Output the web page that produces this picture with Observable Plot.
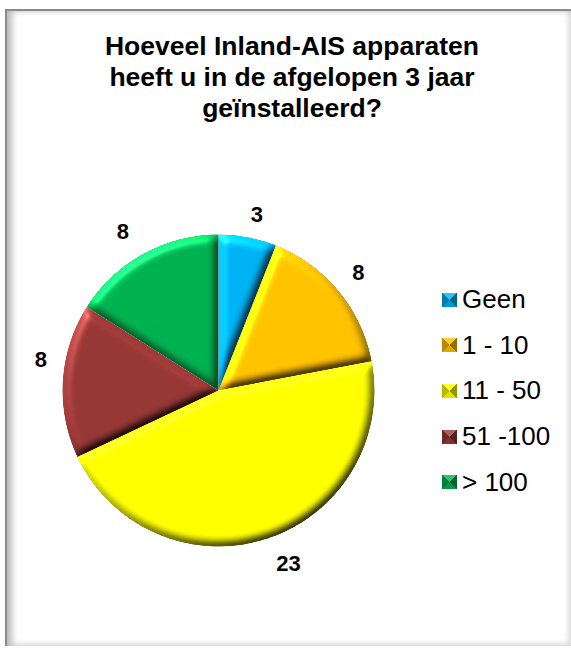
<!DOCTYPE html>
<html>
<head>
<meta charset="utf-8">
<script src="https://cdn.jsdelivr.net/npm/d3@7"></script>
<script src="https://cdn.jsdelivr.net/npm/@observablehq/plot@0.6"></script>
<style>
  html, body { margin: 0; background: #fff; }
  #page { position: relative; width: 571px; height: 648px; overflow: hidden; font-family: "Liberation Sans", Arial, sans-serif; color: #000; }
  #frame { position: absolute; left: 5px; top: 9px; width: 566px; height: 637px; box-sizing: border-box;
           border-top: 2px solid #8a8a8a; border-left: 2px solid #8a8a8a;
           box-shadow: inset 8px 3px 6px -3px #bbb, inset -5px -5px 5px -2px #ddd; }
  #title { position: absolute; left: 22px; width: 540px; top: 31px; text-align: center; font-weight: bold; font-size: 26.5px; line-height: 31px; }
  #chart { position: absolute; left: 0; top: 0; }
  #legend { position: absolute; left: 442px; top: 277px; }
  .row { display: flex; align-items: center; height: 45.6px; font-size: 26px; white-space: pre; }
  .swatch { width: 15px; height: 14px; margin-right: 5px; position: relative; }
  .swatch::after { content: ""; position: absolute; inset: 0;
    background: conic-gradient(from -45deg, rgba(255,255,255,.2) 0 25%, rgba(0,0,0,.42) 25% 50%, rgba(0,0,0,.12) 50% 75%, rgba(0,0,0,.28) 75% 100%); }
</style>
</head>
<body>
<div id="page">
  <div id="frame"></div>
  <div id="title">Hoeveel Inland-AIS apparaten<br>heeft u in de afgelopen 3 jaar<br>geïnstalleerd?</div>
  <div id="chart"></div>
  <div id="legend"></div>
</div>
<script>
const categories = ["Geen", "1 - 10", "11 - 50", "51 -100", "> 100"];
const counts = [3, 8, 23, 8, 8];
const colors = ["#00b0f0", "#ffc000", "#ffff00", "#953735", "#00b050"];

// Clockwise from twelve o'clock, in a unit-radius plane.
const total = d3.sum(counts);
const toPoint = (angle, r = 1) => [r * Math.sin(angle), r * Math.cos(angle)];
const arcPoints = (a0, a1) => {
  const steps = Math.ceil((a1 - a0) / 0.02);
  return d3.range(steps + 1).map((i) => toPoint(a0 + (a1 - a0) * i / steps));
};

let running = 0;
const slices = categories.map((category, i) => {
  const start = (running / total) * 2 * Math.PI;
  running += counts[i];
  const end = (running / total) * 2 * Math.PI;
  return { category, count: counts[i], start, end, mid: (start + end) / 2 };
});

const features = slices.map((s) => ({
  type: "Feature",
  properties: { category: s.category },
  geometry: { type: "Polygon", coordinates: [[[0, 0], ...arcPoints(s.start, s.end), [0, 0]]] }
}));

const disc = { type: "Polygon", coordinates: [arcPoints(0, 2 * Math.PI)] };
const labelRadius = 1.18;
const labels = slices.map((s) => {
  const [x, y] = toPoint(s.mid, labelRadius);
  return { x, y, text: String(s.count) };
});

// Pixel offsets that pull each value label clear of the rim.
const labelOffsets = [[4, 5], [-2, 0], [13, -2], [6, -19], [-7, 3]];

const plot = Plot.plot({
  width: 571,
  height: 648,
  margin: 0,
  style: { background: "transparent", fontFamily: "'Liberation Sans', Arial, sans-serif" },
  projection: {
    type: "reflect-y",
    domain: disc,
    insetLeft: 62,
    insetRight: 197,
    insetTop: 234,
    insetBottom: 102
  },
  color: { domain: categories, range: colors },
  marks: [
    Plot.geo(features, { fill: (d) => d.properties.category, className: "slice" }),
    ...labels.map((d, i) => Plot.text([d], {
      x: "x", y: "y", text: "text",
      dx: labelOffsets[i][0], dy: labelOffsets[i][1],
      fontSize: 22, fontWeight: "bold", fill: "#000"
    }))
  ]
});

// Bevelled edge lighting for each slice.
const defs = d3.select(plot).append("defs");
const filter = defs.append("filter")
  .attr("id", "bevel")
  .attr("filterUnits", "userSpaceOnUse")
  .attr("x", 0).attr("y", 0).attr("width", 571).attr("height", 648)
  .attr("color-interpolation-filters", "sRGB");
filter.append("feGaussianBlur").attr("in", "SourceAlpha").attr("stdDeviation", 4.6).attr("result", "height");
filter.append("feDiffuseLighting")
  .attr("in", "height").attr("surfaceScale", 4.2).attr("diffuseConstant", 1).attr("lighting-color", "#fff").attr("result", "diffuse")
  .append("feDistantLight").attr("azimuth", 235).attr("elevation", 45);
filter.append("feComposite")
  .attr("in", "SourceGraphic").attr("in2", "diffuse").attr("operator", "arithmetic")
  .attr("k1", 1.44).attr("k2", 0).attr("k3", 0).attr("k4", 0).attr("result", "lit");
filter.append("feSpecularLighting")
  .attr("in", "height").attr("surfaceScale", 4.2).attr("specularConstant", 0.22).attr("specularExponent", 30).attr("lighting-color", "#fff").attr("result", "spec")
  .append("feDistantLight").attr("azimuth", 235).attr("elevation", 45);
filter.append("feComposite").attr("in", "spec").attr("in2", "SourceAlpha").attr("operator", "in").attr("result", "specIn");
filter.append("feComposite")
  .attr("in", "lit").attr("in2", "specIn").attr("operator", "arithmetic")
  .attr("k1", 0).attr("k2", 1).attr("k3", 1).attr("k4", -0.02).attr("result", "shaded");
filter.append("feComposite").attr("in", "shaded").attr("in2", "SourceAlpha").attr("operator", "in");

d3.select(plot).selectAll(".slice path").attr("filter", "url(#bevel)");
document.getElementById("chart").append(plot);

// Legend
const legend = d3.select("#legend").selectAll("div").data(slices).join("div").attr("class", "row");
legend.append("span").attr("class", "swatch").style("background", (d, i) => colors[i]);
legend.append("span").text((d) => d.category);
</script>
</body>
</html>
